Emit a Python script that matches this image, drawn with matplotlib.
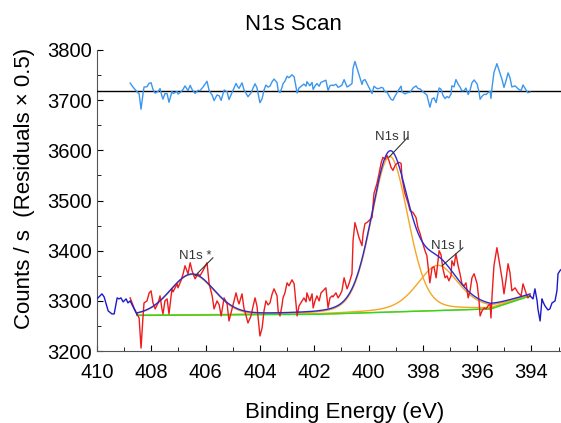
import numpy as np
import matplotlib
matplotlib.use("Agg")
import matplotlib.pyplot as plt

plt.rcParams['font.family'] = ['Liberation Sans', 'DejaVu Sans']

# ---------------- data ----------------
# measured counts inside the fitting region (red)
data_be = [408.78, 408.71, 408.64, 408.53, 408.45, 408.38, 408.31, 408.27, 408.16, 408.08,
           408.01, 407.94, 407.86, 407.75, 407.68, 407.61, 407.57, 407.50, 407.42, 407.35,
           407.24, 407.20, 407.05, 407.02, 406.91, 406.83, 406.76, 406.65, 406.57, 406.50,
           406.39, 406.28, 406.21, 406.10, 405.95, 405.87, 405.76, 405.69, 405.58, 405.50,
           405.43, 405.32, 405.21, 405.14, 405.03, 404.99, 404.88, 404.81, 404.77, 404.66,
           404.59, 404.51, 404.44, 404.33, 404.25, 404.18, 404.11, 404.00, 403.92, 403.85,
           403.78, 403.70, 403.63, 403.55, 403.48, 403.37, 403.33, 403.26, 403.19, 403.15,
           403.08, 403.00, 402.93, 402.82, 402.74, 402.67, 402.63, 402.56, 402.45, 402.38,
           402.30, 402.27, 402.16, 402.08, 402.04, 401.97, 401.90, 401.82, 401.75, 401.68,
           401.57, 401.49, 401.42, 401.34, 401.31, 401.20, 401.12, 401.05, 400.98, 400.90,
           400.79, 400.72, 400.61, 400.57, 400.50, 400.42, 400.35, 400.24, 400.20, 400.13,
           400.06, 399.98, 399.87, 399.80, 399.69, 399.61, 399.54, 399.47, 399.39, 399.32,
           399.25, 399.17, 399.10, 399.02, 398.95, 398.88, 398.80, 398.77, 398.66, 398.55,
           398.47, 398.36, 398.25, 398.18, 398.10, 398.03, 397.92, 397.85, 397.81, 397.74,
           397.66, 397.59, 397.51, 397.44, 397.40, 397.33, 397.26, 397.18, 397.11, 397.04,
           396.96, 396.93, 396.85, 396.78, 396.70, 396.63, 396.56, 396.48, 396.41, 396.33,
           396.26, 396.19, 396.11, 396.00, 395.93, 395.89, 395.82, 395.74, 395.67, 395.60,
           395.52, 395.49, 395.45, 395.38, 395.27, 395.19, 395.08, 395.01, 394.94, 394.86,
           394.79, 394.72, 394.60, 394.49, 394.38, 394.31, 394.20, 394.13, 394.05]
data_counts = [3306, 3296, 3286, 3274, 3266, 3206, 3266, 3296, 3300, 3316,
               3320, 3296, 3284, 3296, 3310, 3284, 3274, 3300, 3304, 3274,
               3324, 3318, 3334, 3326, 3340, 3354, 3370, 3354, 3376, 3360,
               3344, 3354, 3350, 3360, 3376, 3334, 3310, 3284, 3300, 3292,
               3270, 3306, 3294, 3260, 3284, 3292, 3316, 3300, 3294, 3314,
               3286, 3270, 3256, 3270, 3290, 3306, 3290, 3230, 3246, 3280,
               3300, 3292, 3296, 3314, 3324, 3310, 3280, 3270, 3290, 3306,
               3316, 3336, 3330, 3342, 3334, 3294, 3270, 3290, 3300, 3306,
               3298, 3316, 3300, 3314, 3286, 3300, 3310, 3300, 3316, 3320,
               3326, 3286, 3306, 3310, 3308, 3316, 3306, 3312, 3320, 3346,
               3324, 3334, 3354, 3420, 3456, 3440, 3426, 3410, 3434, 3454,
               3456, 3460, 3466, 3514, 3534, 3554, 3574, 3586, 3582, 3590,
               3580, 3566, 3560, 3570, 3574, 3576, 3574, 3546, 3514, 3496,
               3480, 3476, 3466, 3446, 3434, 3420, 3400, 3390, 3370, 3336,
               3366, 3368, 3346, 3380, 3400, 3392, 3364, 3346, 3350, 3340,
               3350, 3380, 3370, 3394, 3370, 3354, 3334, 3330, 3336, 3306,
               3320, 3346, 3354, 3334, 3300, 3270, 3280, 3286, 3284, 3290,
               3294, 3266, 3310, 3370, 3406, 3380, 3344, 3314, 3340, 3374,
               3356, 3320, 3326, 3316, 3310, 3334, 3316, 3306, 3310]

# raw scan outside the fitting region (blue)
raw_left_be = [410.00, 409.82, 409.74, 409.59, 409.45, 409.37, 409.26, 409.19, 409.12,
               409.04, 408.93, 408.86, 408.78, 408.53]
raw_left_counts = [3304, 3314, 3308, 3280, 3274, 3274, 3306, 3304, 3306,
                   3298, 3304, 3296, 3300, 3273]
raw_right_be = [394.05, 393.94, 393.87, 393.79, 393.76, 393.68, 393.61, 393.57, 393.50,
                393.39, 393.32, 393.24, 393.13, 393.06, 393.02, 392.95, 392.88]
raw_right_counts = [3310, 3304, 3324, 3300, 3284, 3260, 3304, 3298, 3290,
                    3282, 3284, 3296, 3300, 3320, 3354, 3360, 3364]

# background (green) nodes
bg_be = [408.53, 402.0, 395.5, 394.05]
bg_counts = [3271, 3273, 3284, 3310]

# fitted components: name, centre (eV), height (counts), FWHM (eV), Lorentzian fraction
peak_names = ["N1s *", "N1s II", "N1s I"]
peak_centres = [406.50, 399.22, 397.45]
peak_heights = [81, 310, 90]
peak_fwhm = [1.9, 1.6, 1.8]
peak_eta = [0.1, 0.2, 0.4]

residual_offset = 3718
residual_scale = 0.5

# annotation label positions (eV, counts) and leader line ends
label_pos = [(406.39, 3390), (399.13, 3626), (397.11, 3410)]
leader_from = [(405.73, 3386), (398.55, 3626), (396.52, 3406)]
leader_to = [(406.39, 3350), (399.25, 3586), (397.29, 3370)]

# ---------------- model ----------------
def background(x):
    return np.interp(-np.asarray(x), -np.array(bg_be), np.array(bg_counts))

def pv(x, c, h, w, eta):
    d = (np.asarray(x) - c) / w
    g = np.exp(-4 * np.log(2) * d ** 2)
    l = 1.0 / (1.0 + 4 * d ** 2)
    return h * ((1 - eta) * g + eta * l)

def envelope(x):
    y = background(x)
    for c, h, w, e in zip(peak_centres, peak_heights, peak_fwhm, peak_eta):
        y = y + pv(x, c, h, w, e)
    return y

xf = np.linspace(bg_be[0], bg_be[-1], 600)

fig = plt.figure(figsize=(5.61, 4.23), dpi=100)
ax = fig.add_axes([0.173, 0.170, 0.827, 0.712])

# components
for c, h, w, e in zip(peak_centres, peak_heights, peak_fwhm, peak_eta):
    ax.plot(xf, background(xf) + pv(xf, c, h, w, e), color='#f5a623', lw=1.0, zorder=2)
ax.plot(xf, background(xf), color='#22dd22', lw=1.0, zorder=3)
ax.plot(data_be, data_counts, color='#ee1c1c', lw=1.0, zorder=4)
ax.plot(raw_left_be, raw_left_counts, color='#1a1acc', lw=1.0, zorder=5)
ax.plot(raw_right_be, raw_right_counts, color='#1a1acc', lw=1.0, zorder=5)
ax.plot(xf, envelope(xf), color='#2b2bd0', lw=1.0, zorder=5)

# residuals
res = residual_offset + residual_scale * (np.array(data_counts) - envelope(np.array(data_be)))
ax.axhline(residual_offset, color='black', lw=1.0, zorder=3)
ax.plot(data_be, res, color='#3a96ee', lw=1.0, zorder=4)

# annotations
for name, lp, lf, lt in zip(peak_names, label_pos, leader_from, leader_to):
    ax.text(lp[0], lp[1], name, ha='center', va='center', fontsize=9.5, color='#333333', zorder=6)
    ax.annotate('', xy=lt, xytext=lf,
                arrowprops=dict(arrowstyle='-', color='#333333', lw=0.8, shrinkA=0, shrinkB=0),
                zorder=6)

ax.set_xlim(410, 392.91)
ax.set_ylim(3200, 3800)
ax.set_xticks(np.arange(410, 393, -2))
ax.set_xticks(np.arange(410, 392, -1), minor=True)
ax.set_yticks(np.arange(3200, 3801, 100))
ax.set_yticks(np.arange(3200, 3801, 50), minor=True)
ax.tick_params(which='both', direction='in', labelsize=14.5)
ax.tick_params(which='major', length=4)
ax.tick_params(which='minor', length=3)
ax.tick_params(axis='x', which='major', pad=8.5)
ax.tick_params(axis='y', which='major', pad=3.6)
for s in ['top', 'right']:
    ax.spines[s].set_visible(False)
for s in ['left', 'bottom']:
    ax.spines[s].set_color('#555555')

ax.set_xlabel('Binding Energy (eV)', fontsize=16)
ax.set_ylabel('Counts / s  (Residuals × 0.5)', fontsize=16)
ax.xaxis.set_label_coords(0.533, -0.169)
ax.yaxis.set_label_coords(-0.134, 0.54)
fig.text(0.523, 0.941, 'N1s Scan', ha='center', va='center', fontsize=16)

fig.savefig('out.png', dpi=100)
